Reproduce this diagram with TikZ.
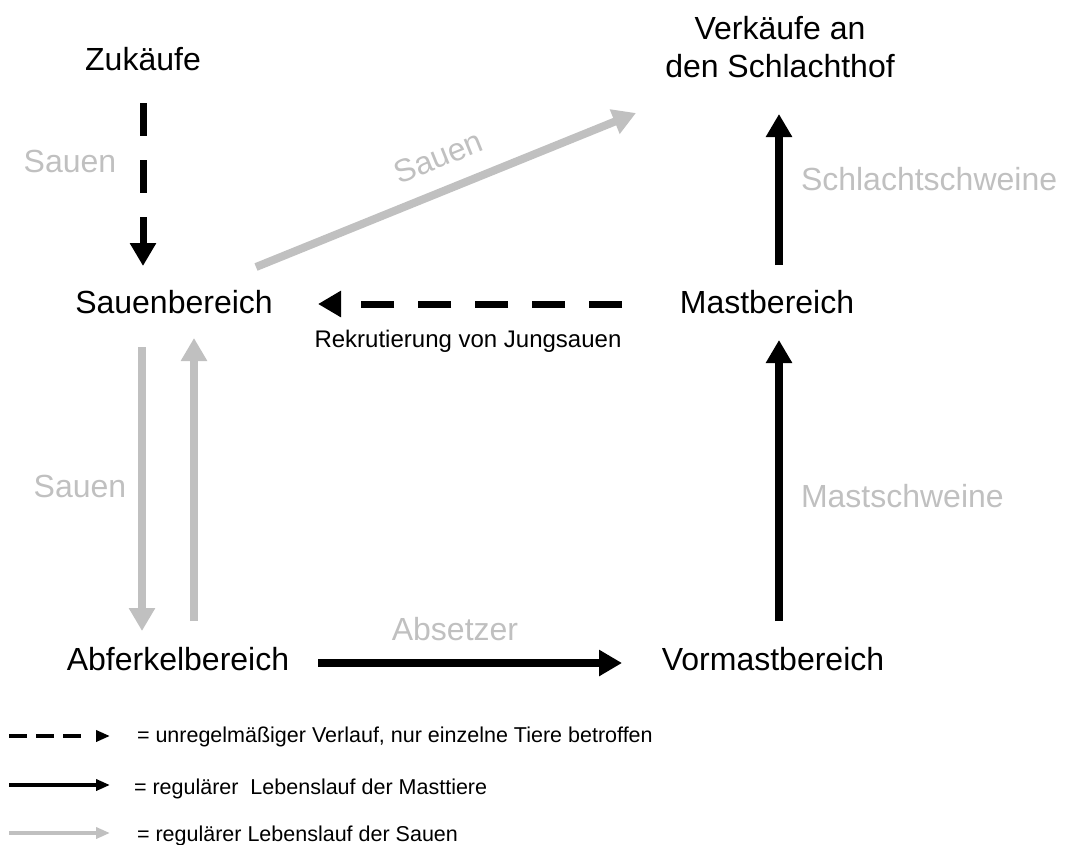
\documentclass[tikz,border=0pt]{standalone}
\usepackage{fontspec}
\setmainfont{Liberation Sans}
\usetikzlibrary{arrows.meta}
\definecolor{sowgray}{RGB}{192,192,192}

\begin{document}
\begin{tikzpicture}[x=1pt,y=-1pt,
  every node/.style={inner sep=0pt, outer sep=0pt},
  area/.style={font=\fontsize{32}{38}\selectfont, anchor=base, align=center},
  flowlabel/.style={font=\fontsize{32}{38}\selectfont, text=sowgray, anchor=base},
  legendtext/.style={font=\fontsize{21.5}{26}\selectfont, anchor=base west},
  bighead/.style={-{Triangle[length=23pt,width=25pt]}},
  smallhead/.style={-{Triangle[length=14pt,width=11pt]}},
  fattening/.style={draw=black, line width=8pt, bighead},
  sowflow/.style={draw=sowgray, line width=8pt, bighead},
  irregular/.style={draw=black, line width=7pt, dash pattern=on 33pt off 24pt, bighead},
  legendline/.style={line width=4pt, smallhead},
]
\useasboundingbox (0,0) rectangle (1066,844);

% areas of the farm (base anchor = baseline of the last line)
\node[area] (zukauf)  at (143,70)  {Zukäufe};
\node[area] (verkauf) at (780,77)  {Verkäufe an\\den Schlachthof};
\node[area] (sauen)   at (174,313) {Sauenbereich};
\node[area] (mast)    at (767,313) {Mastbereich};
\node[area] (abf)     at (178,670) {Abferkelbereich};
\node[area] (vormast) at (773,670) {Vormastbereich};

% end points of the flows
\coordinate (zukaufOut) at (143,103);
\coordinate (sauenIn)   at (143,266);
\coordinate (sauenDiag) at (256,267);
\coordinate (verkaufInL) at (636,113);
\coordinate (mastOutL)  at (622,304);
\coordinate (sauenInR)  at (318,304);
\coordinate (sauenOutD) at (142,347);
\coordinate (abfIn)     at (142,631);
\coordinate (abfOutU)   at (194,621);
\coordinate (sauenInU)  at (194,338);
\coordinate (abfOut)    at (318,663);
\coordinate (vormastIn) at (622,663);
\coordinate (vormastOut) at (779,621);
\coordinate (mastIn)    at (779,340);
\coordinate (mastOut)   at (779,265);
\coordinate (verkaufIn) at (779,114);

% flows
\draw[irregular] (zukaufOut) -- (sauenIn);
\draw[sowflow] (sauenDiag) -- (verkaufInL);
\draw[irregular] (mastOutL) -- (sauenInR);
\draw[sowflow] (sauenOutD) -- (abfIn);
\draw[sowflow] (abfOutU) -- (sauenInU);
\draw[fattening] (abfOut) -- (vormastIn);
\draw[fattening] (vormastOut) -- (mastIn);
\draw[fattening] (mastOut) -- (verkaufIn);

% flow labels
\node[flowlabel] (lblZukauf) at (70,172) {Sauen};
\node[font=\fontsize{32}{38}\selectfont, text=sowgray, rotate=22] (lblDiag) at (438,157) {Sauen};
\node[flowlabel, anchor=base west] (lblSchlacht) at (801,190) {Schlachtschweine};
\node[flowlabel] (lblSauenAbf) at (80,497) {Sauen};
\node[flowlabel, anchor=base west] (lblMast) at (801,507) {Mastschweine};
\node[flowlabel] (lblAbsetzer) at (455,640) {Absetzer};
\node[font=\fontsize{24}{28}\selectfont, anchor=base] (rekr) at (468,347) {Rekrutierung von Jungsauen};

% legend
\coordinate (legA1) at (9,736);  \coordinate (legA2) at (110,736);
\coordinate (legB1) at (9,785);  \coordinate (legB2) at (110,785);
\coordinate (legC1) at (9,833);  \coordinate (legC2) at (110,833);
\draw[legendline, draw=black, dash pattern=on 18pt off 9pt on 18pt off 9pt on 18pt off 20pt] (legA1) -- (legA2);
\draw[legendline, draw=black] (legB1) -- (legB2);
\draw[legendline, draw=sowgray] (legC1) -- (legC2);
\node[legendtext] (legTa) at (137,742) {= unregelmäßiger Verlauf, nur einzelne Tiere betroffen};
\node[legendtext] (legTb) at (134,794) {= regulärer\ \ Lebenslauf der Masttiere};
\node[legendtext] (legTc) at (137,841) {= regulärer Lebenslauf der Sauen};
\end{tikzpicture}
\end{document}
